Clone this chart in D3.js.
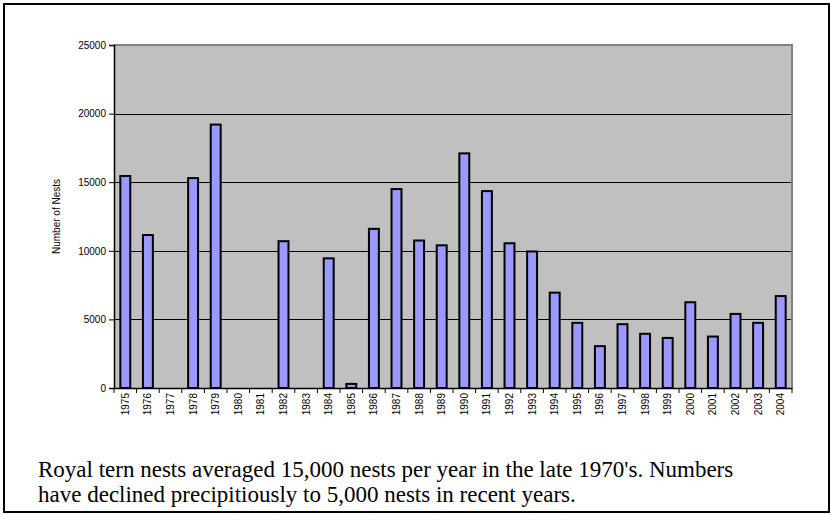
<!DOCTYPE html>
<html><head><meta charset="utf-8">
<script src="https://cdn.jsdelivr.net/npm/d3@7"></script>
<style>
html,body{margin:0;padding:0;background:#fff;}
svg{display:block;}
</style></head>
<body>
<svg id="chart" width="831" height="515"></svg>
<script>
const years = ["1975","1976","1977","1978","1979","1980","1981","1982","1983","1984","1985","1986","1987","1988","1989","1990","1991","1992","1993","1994","1995","1996","1997","1998","1999","2000","2001","2002","2003","2004"];
const nests = [15450,11150,0,15300,19200,0,0,10700,0,9450,300,11600,14500,10750,10400,17100,14350,10550,9950,6950,4750,3050,4650,3950,3650,6250,3750,5400,4750,6700];
const yTicks = [0,5000,10000,15000,20000,25000];
const yTitle = "Number of Nests";
const captionLines = ["Royal tern nests averaged 15,000 nests per year in the late 1970's. Numbers","have declined precipitiously to 5,000 nests in recent years."];

const svg = d3.select("#chart");
const plot = {left:114, top:45, right:792, bottom:388};

// outer frame
svg.append("rect").attr("x",4).attr("y",4).attr("width",825).attr("height",508)
  .attr("fill","#fff").attr("stroke","#000").attr("stroke-width",2);

const x = d3.scaleBand().domain(years).range([plot.left, plot.right]).paddingInner(0.56).paddingOuter(0.28);
const y = d3.scaleLinear().domain([0,25000]).range([plot.bottom, plot.top]);

// plot background
svg.append("rect").attr("x",plot.left).attr("y",plot.top)
  .attr("width",plot.right-plot.left).attr("height",plot.bottom-plot.top).attr("fill","#C0C0C0");

// gridlines
svg.append("g").selectAll("line").data(yTicks.filter(d=>d>0 && d<25000)).join("line")
  .attr("x1",plot.left).attr("x2",plot.right)
  .attr("y1",d=>Math.round(y(d))+0.5).attr("y2",d=>Math.round(y(d))+0.5)
  .attr("stroke","#000").attr("stroke-width",1);

// plot border top & right (gray)
svg.append("path").attr("d",`M${plot.left},${plot.top} H${plot.right} V${plot.bottom}`)
  .attr("fill","none").attr("stroke","#808080").attr("stroke-width",2);

// bars
svg.append("g").selectAll("rect").data(years.map((yr,i)=>({yr, v:nests[i]})).filter(d=>d.v>0)).join("rect")
  .attr("x",d=>x(d.yr)).attr("width",x.bandwidth())
  .attr("y",d=>y(d.v)).attr("height",d=>y(0)-y(d.v))
  .attr("fill","#9999FF").attr("stroke","#000").attr("stroke-width",2);

// y axis
const yAxis = d3.axisLeft(y).tickValues(yTicks).tickSize(5).tickPadding(3).tickFormat(d3.format("d"));
const gy = svg.append("g").attr("transform",`translate(${plot.left},0)`).call(yAxis);
gy.select(".domain").attr("stroke","#000").attr("stroke-width",1.5);
gy.selectAll(".tick line").attr("stroke","#000");
gy.selectAll("text").attr("font-family","Liberation Sans, Arial, sans-serif").attr("font-size",10).attr("fill","#000");

// x axis
const xAxis = d3.axisBottom(x).tickSize(0).tickPadding(6);
const gx = svg.append("g").attr("transform",`translate(0,${plot.bottom})`).call(xAxis);
gx.select(".domain").attr("stroke","#000").attr("stroke-width",1.5);
gx.selectAll(".tick text")
  .attr("font-family","Liberation Sans, Arial, sans-serif").attr("font-size",10).attr("fill","#000")
  .attr("transform","rotate(-90)").attr("text-anchor","end").attr("dy","0.35em").attr("x",-5).attr("y",0);
// tick marks between categories
gx.append("g").selectAll("line").data(d3.range(years.length+1)).join("line")
  .attr("x1",i=>plot.left + i*(plot.right-plot.left)/years.length)
  .attr("x2",i=>plot.left + i*(plot.right-plot.left)/years.length)
  .attr("y1",0).attr("y2",5).attr("stroke","#000");

// y title
svg.append("text").attr("transform",`translate(60,${(plot.top+plot.bottom)/2}) rotate(-90)`)
  .attr("text-anchor","middle").attr("font-family","Liberation Sans, Arial, sans-serif")
  .attr("font-size",10).attr("fill","#000").text(yTitle);

// caption
svg.append("g").selectAll("text").data(captionLines).join("text")
  .attr("x",38).attr("y",(d,i)=>477+i*25)
  .attr("font-family","'Liberation Serif', 'Times New Roman', serif").attr("font-size",23).attr("fill","#000")
  .text(d=>d);
</script>
</body></html>
